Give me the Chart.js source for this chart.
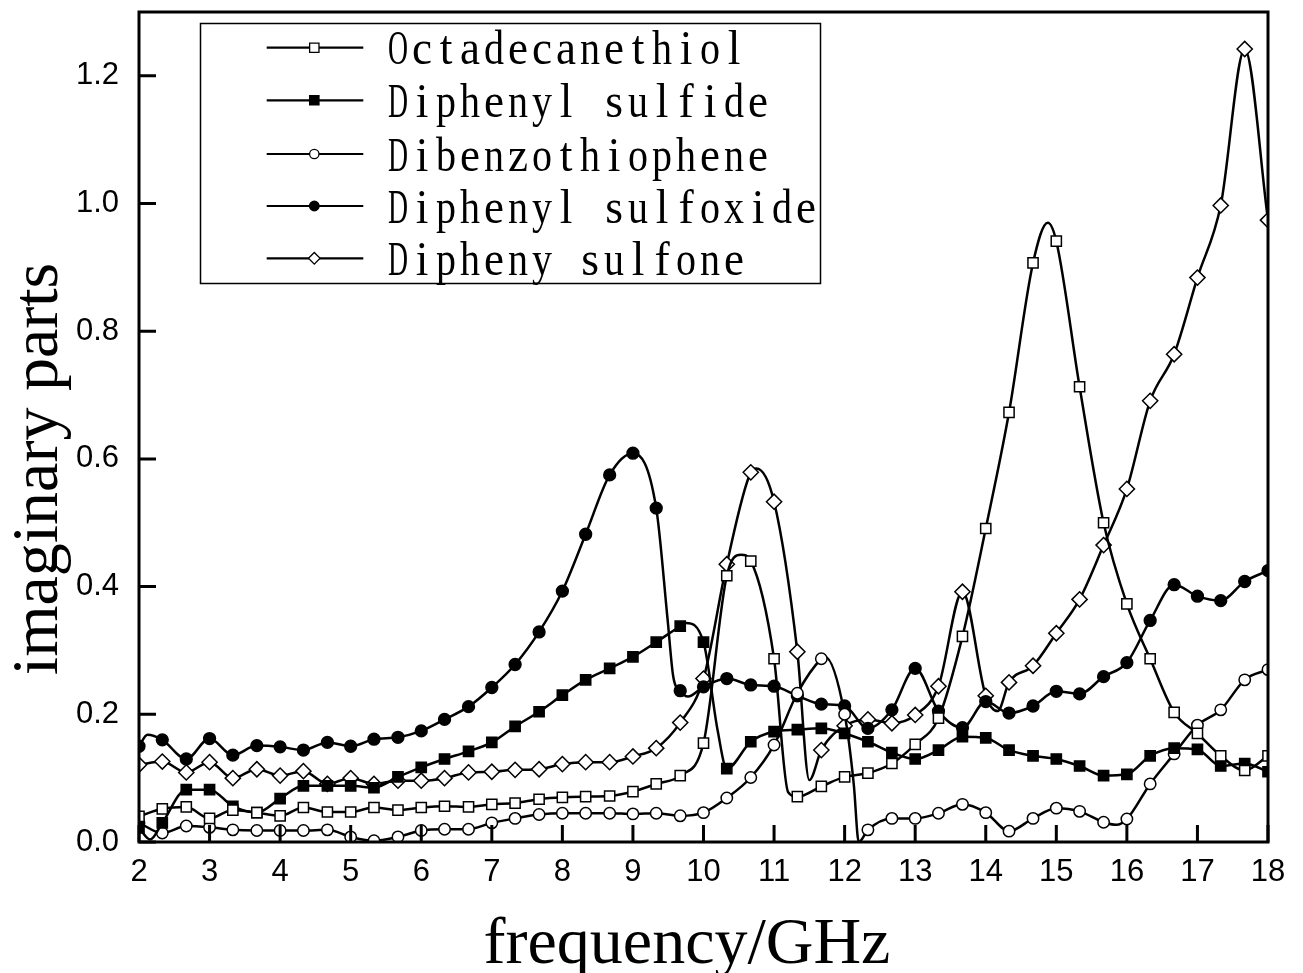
<!DOCTYPE html>
<html><head><meta charset="utf-8">
<script src="https://cdn.jsdelivr.net/npm/chart.js@4.4.0/dist/chart.umd.min.js"></script>
<style>html,body{margin:0;padding:0;background:#fff}canvas{display:block}</style>
</head><body>
<canvas id="c" width="1303" height="973"></canvas>
<script>
// x positions of the plotted markers (GHz)
const freq = [2, 2.33, 2.67, 3, 3.33, 3.67, 4, 4.33, 4.67, 5, 5.33, 5.67, 6, 6.33, 6.67, 7, 7.33, 7.67, 8, 8.33, 8.67, 9, 9.33, 9.67, 10, 10.33, 10.67, 11, 11.33, 11.67, 12, 12.33, 12.67, 13, 13.33, 13.67, 14, 14.33, 14.67, 15, 15.33, 15.67, 16, 16.33, 16.67, 17, 17.33, 17.67, 18];

const octadecanethiol = [0.040, 0.052, 0.055, 0.037, 0.050, 0.046, 0.041, 0.054, 0.047, 0.047, 0.054, 0.050, 0.054, 0.056, 0.055, 0.059, 0.061, 0.067, 0.070, 0.071, 0.072, 0.079, 0.091, 0.104, 0.155, 0.417, 0.440, 0.287, 0.071, 0.087, 0.102, 0.108, 0.123, 0.153, 0.194, 0.322, 0.491, 0.673, 0.907, 0.941, 0.713, 0.500, 0.373, 0.287, 0.203, 0.170, 0.135, 0.112, 0.135];
const diphenylSulfide = [0.022, 0.030, 0.082, 0.082, 0.056, 0.046, 0.068, 0.088, 0.088, 0.088, 0.085, 0.102, 0.117, 0.130, 0.142, 0.156, 0.181, 0.204, 0.230, 0.254, 0.272, 0.290, 0.313, 0.338, 0.313, 0.115, 0.157, 0.173, 0.176, 0.178, 0.170, 0.157, 0.140, 0.130, 0.144, 0.165, 0.163, 0.144, 0.135, 0.130, 0.119, 0.104, 0.106, 0.135, 0.147, 0.145, 0.119, 0.123, 0.110];
const dibenzothiophene = [0.030, 0.014, 0.025, 0.023, 0.019, 0.018, 0.018, 0.018, 0.019, 0.008, 0.002, 0.008, 0.018, 0.020, 0.020, 0.030, 0.037, 0.043, 0.045, 0.045, 0.045, 0.044, 0.045, 0.041, 0.046, 0.069, 0.101, 0.152, 0.233, 0.287, 0.200, 0.019, 0.037, 0.037, 0.045, 0.059, 0.046, 0.017, 0.037, 0.053, 0.048, 0.031, 0.036, 0.091, 0.138, 0.183, 0.207, 0.254, 0.270];
const diphenylSulfoxide = [0.150, 0.160, 0.130, 0.162, 0.136, 0.151, 0.149, 0.144, 0.156, 0.150, 0.161, 0.164, 0.174, 0.192, 0.212, 0.242, 0.278, 0.329, 0.393, 0.482, 0.575, 0.609, 0.523, 0.237, 0.243, 0.256, 0.246, 0.244, 0.229, 0.216, 0.213, 0.178, 0.207, 0.272, 0.205, 0.179, 0.220, 0.202, 0.213, 0.236, 0.232, 0.259, 0.281, 0.347, 0.403, 0.385, 0.378, 0.408, 0.425];
const diphenySulfone = [0.121, 0.126, 0.109, 0.125, 0.100, 0.114, 0.104, 0.111, 0.091, 0.100, 0.091, 0.096, 0.096, 0.100, 0.109, 0.110, 0.113, 0.114, 0.122, 0.125, 0.125, 0.134, 0.147, 0.187, 0.256, 0.435, 0.579, 0.533, 0.298, 0.144, 0.182, 0.192, 0.186, 0.199, 0.244, 0.392, 0.229, 0.250, 0.276, 0.327, 0.380, 0.465, 0.553, 0.691, 0.764, 0.884, 0.997, 1.242, 0.974];

// unmarked points of the measured curves (peaks / dips between markers): [GHz, value]
const octadecanethiolCurve = [[10.53, 0.450], [11.2, 0.078], [14.88, 0.970]];
const diphenylSulfideCurve = [[2.16, 0.004], [9.75, 0.343], [10.2, 0.175]];
const dibenzothiopheneCurve = [[11.72, 0.290], [12.13, 0.090], [12.2, 0.000], [15.85, 0.027]];
const diphenylSulfoxideCurve = [[2.12, 0.168], [9.49, 0.350], [9.57, 0.260], [9.78, 0.228]];
const diphenySulfoneCurve = [[10.75, 0.585], [11.5, 0.097], [14.17, 0.205]];

const seriesNames = ['Octadecanethiol', 'Diphenyl sulfide', 'Dibenzothiophene', 'Diphenyl sulfoxide', 'Dipheny sulfone'];
const xTicks = [2, 3, 4, 5, 6, 7, 8, 9, 10, 11, 12, 13, 14, 15, 16, 17, 18];
const yTicks = [0.0, 0.2, 0.4, 0.6, 0.8, 1.0, 1.2];
const xTitle = 'frequency/GHz';
const yTitle = 'imaginary parts';

const markerStyles = [
  {pointStyle: 'rect', fill: '#ffffff', r: 7.2, lr: 6.6},
  {pointStyle: 'rect', fill: '#000000', r: 7.2, lr: 6.6},
  {pointStyle: 'circle', fill: '#ffffff', r: 5.7, lr: 4.7},
  {pointStyle: 'circle', fill: '#000000', r: 5.9, lr: 4.8},
  {pointStyle: 'rectRot', fill: '#ffffff', r: 7.6, lr: 5.8}
];

function build(vals, extra) {
  const pts = vals.map((v, i) => ({x: freq[i], y: v, m: true}));
  extra.forEach(p => pts.push({x: p[0], y: p[1], m: false}));
  pts.sort((a, b) => a.x - b.x);
  return pts;
}
const allSeries = [
  build(octadecanethiol, octadecanethiolCurve),
  build(diphenylSulfide, diphenylSulfideCurve),
  build(dibenzothiophene, dibenzothiopheneCurve),
  build(diphenylSulfoxide, diphenylSulfoxideCurve),
  build(diphenySulfone, diphenySulfoneCurve)
];

const datasets = allSeries.map((pts, i) => {
  const st = markerStyles[i];
  return {
    label: seriesNames[i],
    data: pts,
    borderColor: '#000',
    borderWidth: 2.5,
    pointStyle: st.pointStyle,
    pointRadius: ctx => (ctx.raw && ctx.raw.m) ? st.r : 0,
    pointBackgroundColor: st.fill,
    pointBorderColor: '#000',
    pointBorderWidth: 1.5,
    cubicInterpolationMode: 'monotone',
    tension: 0.4,
    fill: false
  };
});

// half-width (monospaced) serif text, one glyph per 24px cell
function monoText(ctx, text, x0, baseline, adv) {
  ctx.font = '48px "Liberation Serif"';
  ctx.textAlign = 'center';
  ctx.textBaseline = 'alphabetic';
  for (let j = 0; j < text.length; j++) {
    const c = text[j];
    if (c === ' ') continue;
    const w = ctx.measureText(c).width;
    const sx = Math.min(0.95, 20 / w);
    ctx.save();
    ctx.translate(x0 + j * adv + adv / 2, baseline);
    ctx.scale(sx, 1);
    ctx.fillText(c, 0, 0);
    ctx.restore();
  }
}

const decor = {
  id: 'decor',
  afterDraw(chart) {
    const ctx = chart.ctx;
    const a = chart.chartArea;
    const xs = chart.scales.x, ys = chart.scales.y;
    ctx.save();
    ctx.strokeStyle = '#000';
    ctx.fillStyle = '#000';
    // frame
    ctx.lineWidth = 3;
    ctx.strokeRect(a.left, a.top, a.right - a.left, a.bottom - a.top);
    // inward ticks
    ctx.lineWidth = 3;
    ctx.beginPath();
    xTicks.forEach(v => {
      const px = xs.getPixelForValue(v);
      ctx.moveTo(px, a.bottom); ctx.lineTo(px, a.bottom - 17);
    });
    yTicks.forEach(v => {
      const py = ys.getPixelForValue(v);
      ctx.moveTo(a.left, py); ctx.lineTo(a.left + 17, py);
    });
    ctx.stroke();
    // axis titles
    ctx.font = '66px "Liberation Serif"';
    ctx.textAlign = 'center';
    ctx.textBaseline = 'alphabetic';
    ctx.fillText(xTitle, 687, 963);
    ctx.save();
    ctx.translate(57, 469);
    ctx.rotate(-Math.PI / 2);
    ctx.fillText(yTitle, 0, 0);
    ctx.restore();
    // legend box
    ctx.lineWidth = 1.5;
    ctx.fillStyle = '#fff';
    ctx.fillRect(200.5, 23.5, 620, 260);
    ctx.strokeRect(200.5, 23.5, 620, 260);
    const rows = [47.7, 100.3, 154, 206, 258.3];
    rows.forEach((ry, i) => {
      ctx.strokeStyle = '#000';
      ctx.lineWidth = 2.2;
      ctx.beginPath();
      ctx.moveTo(266.7, ry); ctx.lineTo(363.3, ry);
      ctx.stroke();
      const st = markerStyles[i];
      ctx.fillStyle = st.fill;
      ctx.lineWidth = 1.3;
      Chart.helpers.drawPoint(ctx, {pointStyle: st.pointStyle, radius: st.lr, borderWidth: 1.3, rotation: 0}, 314.3, ry);
      ctx.fillStyle = '#000';
      monoText(ctx, seriesNames[i], 386, ry + 16.5, 24);
    });
    ctx.restore();
  }
};

new Chart(document.getElementById('c'), {
  type: 'line',
  data: {datasets},
  options: {
    responsive: false,
    animation: false,
    events: [],
    layout: {padding: {left: 0, right: 35, top: 12, bottom: 0}},
    plugins: {legend: {display: false}, tooltip: {enabled: false}, title: {display: false}},
    scales: {
      x: {
        type: 'linear', min: 2, max: 18,
        afterBuildTicks: s => { s.ticks = xTicks.map(v => ({value: v})); },
        afterFit: s => { s.height = 131; s.paddingLeft = 0; s.paddingRight = 0; },
        grid: {display: false, drawTicks: false},
        border: {display: false},
        ticks: {color: '#000', font: {family: '"Liberation Sans"', size: 31}, padding: 12, maxRotation: 0, autoSkip: false}
      },
      y: {
        type: 'linear', min: 0, max: 1.3,
        afterBuildTicks: s => { s.ticks = yTicks.map(v => ({value: v})); },
        afterFit: s => { s.width = 139; s.paddingTop = 0; s.paddingBottom = 0; },
        grid: {display: false, drawTicks: false},
        border: {display: false},
        ticks: {color: '#000', font: {family: '"Liberation Sans"', size: 31}, padding: 20, callback: v => Number(v).toFixed(1)}
      }
    }
  },
  plugins: [decor]
});
</script>
</body></html>
